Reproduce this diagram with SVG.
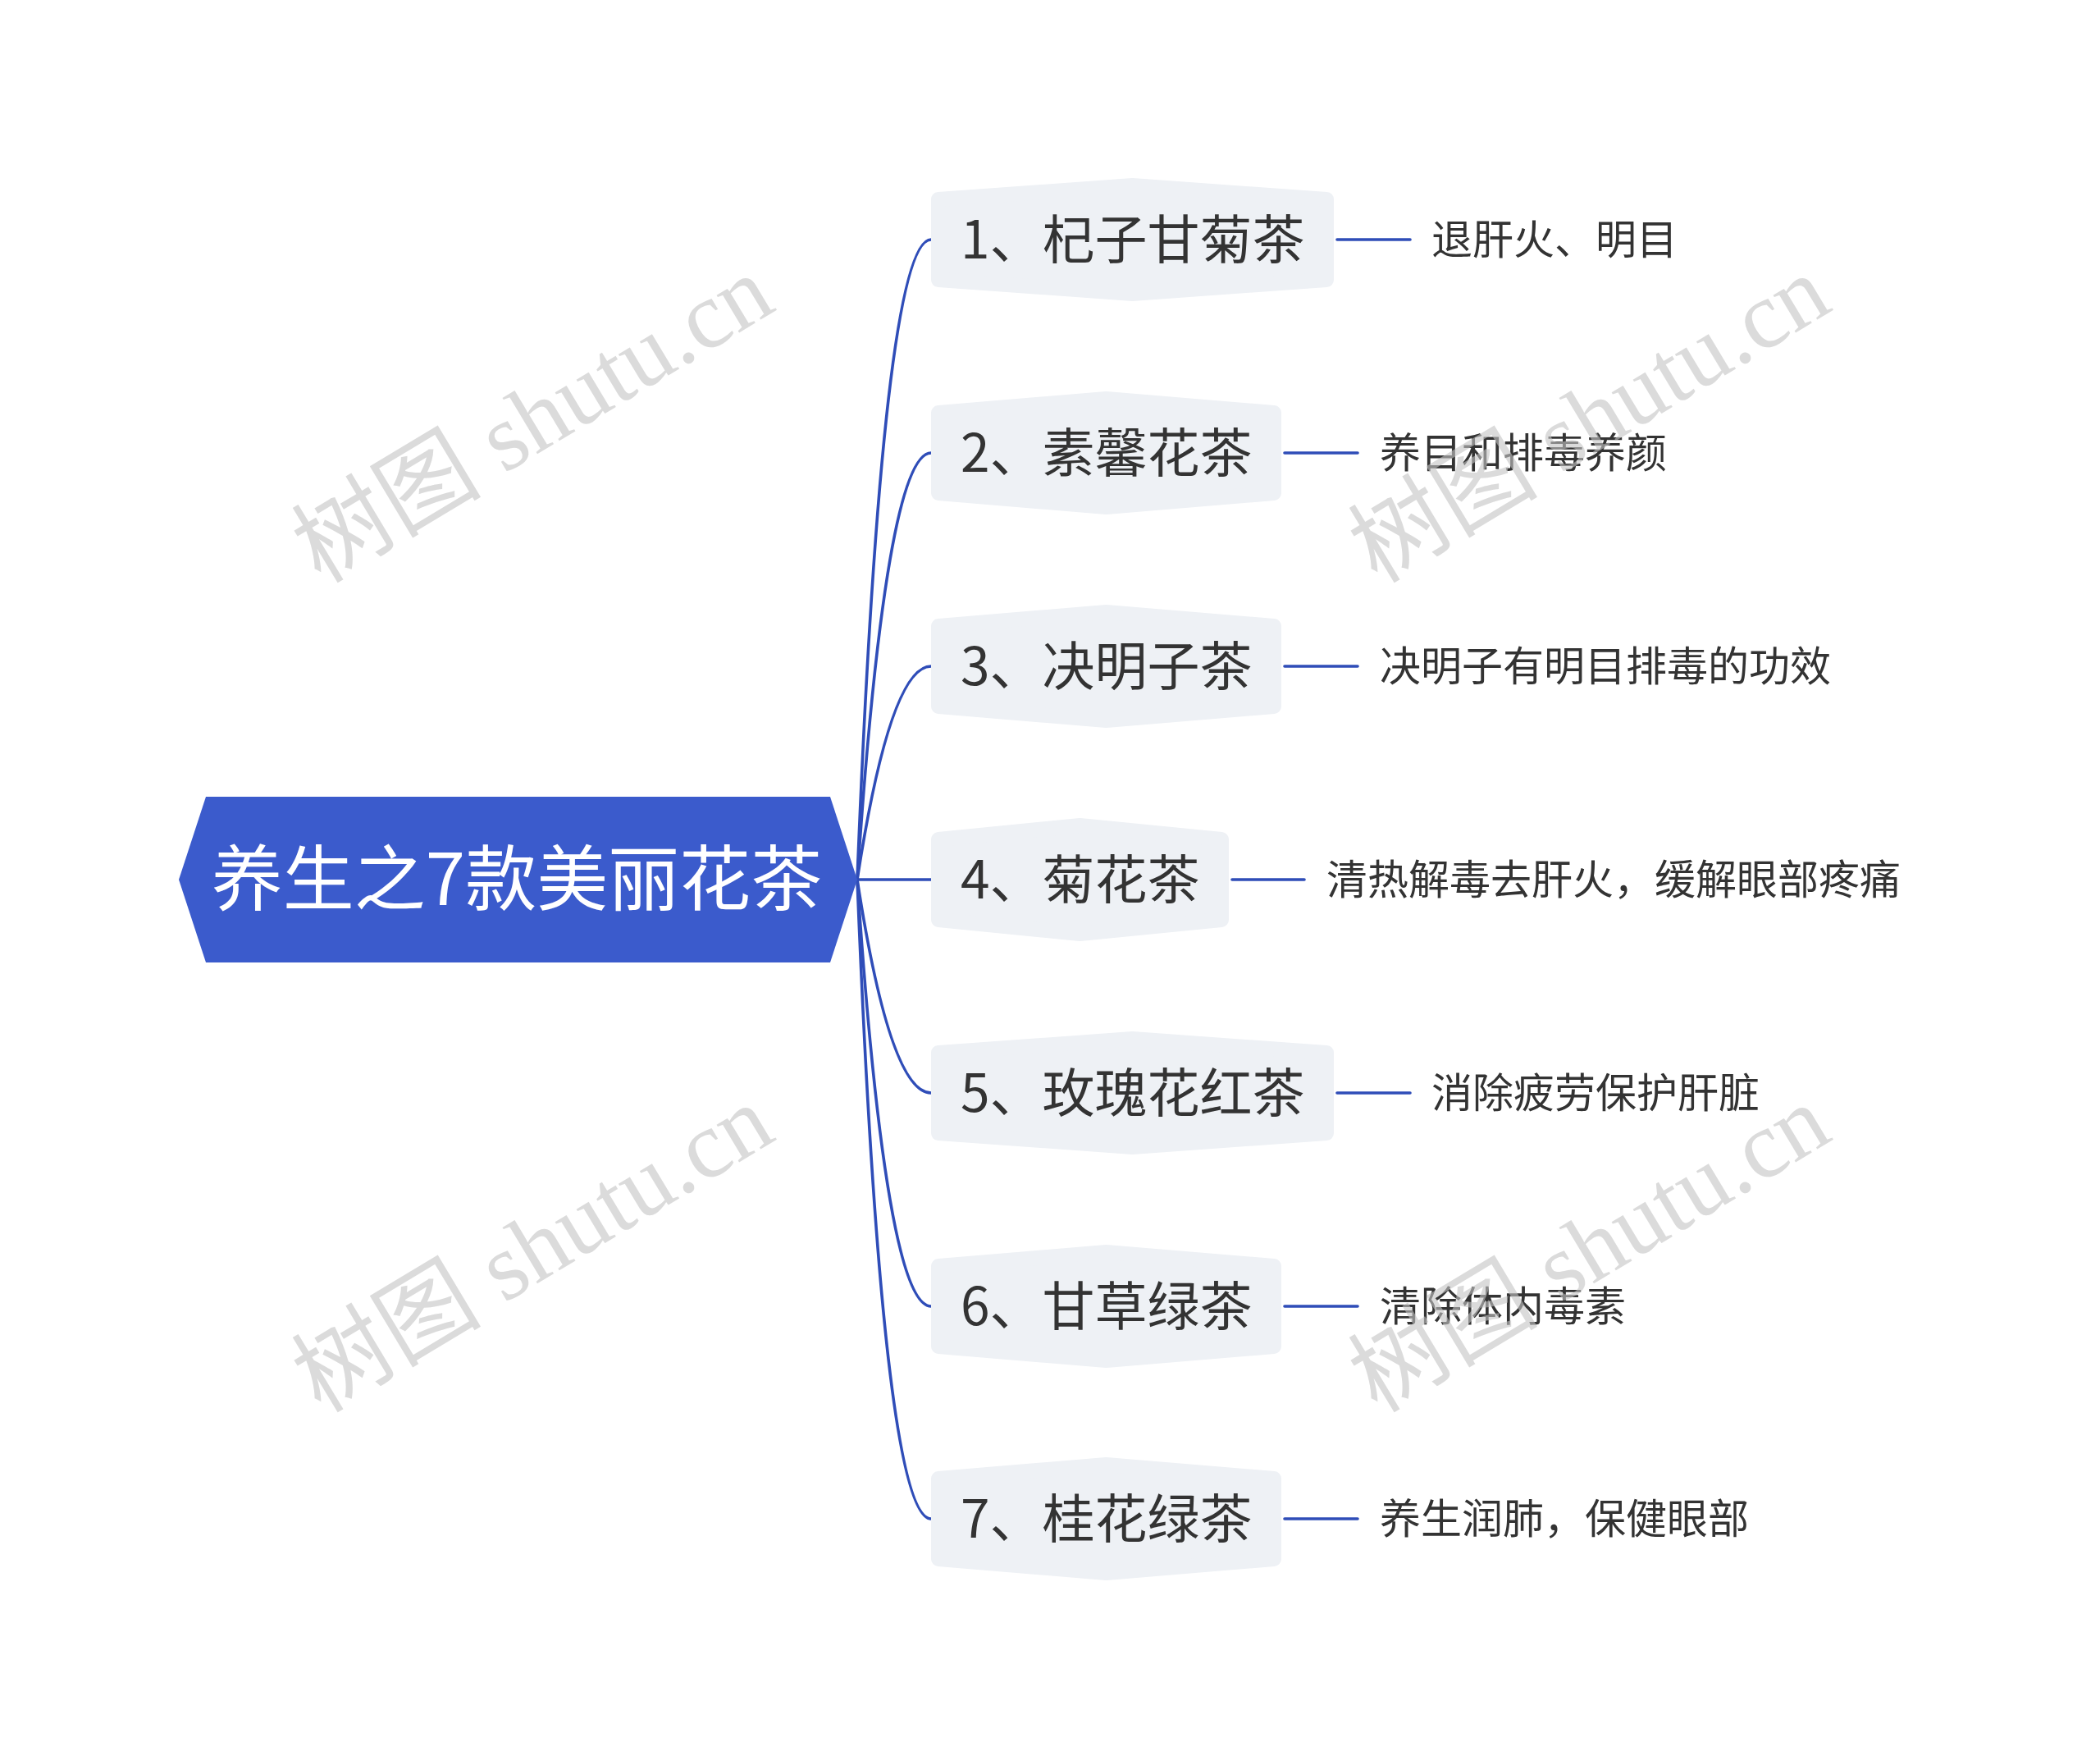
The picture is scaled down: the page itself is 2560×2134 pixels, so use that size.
<svg xmlns="http://www.w3.org/2000/svg" width="2560" height="2134" viewBox="0 0 2560 2134">
<style>
.conn{fill:none;stroke:#2f4db8;stroke-width:3.6;stroke-linecap:round}
.node{fill:#eef1f5;stroke:#eef1f5;stroke-width:18;stroke-linejoin:round}
.ntext{font-family:"Noto Sans CJK SC","Noto Sans",sans-serif;font-size:64px;fill:#333333}
.ltext{font-family:"Noto Sans CJK SC","Noto Sans",sans-serif;font-size:50px;fill:#333333}
.wm{font-family:"Liberation Serif","Noto Sans CJK SC",serif;font-size:116px;fill:#c4c4c4;opacity:0.6}
</style>
<rect width="2560" height="2134" fill="#ffffff"/>
<g id="connectors">
<path class="conn" d="M1045 1072 Q1076 292 1135 292"/>
<path class="conn" d="M1045 1072 Q1080 552 1135 552"/>
<path class="conn" d="M1045 1072 Q1085 812 1135 812"/>
<path class="conn" d="M1045 1072 L1135 1072"/>
<path class="conn" d="M1045 1072 Q1085 1332 1135 1332"/>
<path class="conn" d="M1045 1072 Q1080 1592 1135 1592"/>
<path class="conn" d="M1045 1072 Q1076 1851 1135 1851"/>
<path class="conn" d="M1630 292 L1719 292"/>
<path class="conn" d="M1566 552 L1655 552"/>
<path class="conn" d="M1566 812 L1655 812"/>
<path class="conn" d="M1502 1072 L1590 1072"/>
<path class="conn" d="M1630 1332 L1719 1332"/>
<path class="conn" d="M1566 1592 L1655 1592"/>
<path class="conn" d="M1566 1851 L1655 1851"/>
</g>
<g id="root">
<polygon points="218,1072 251,971 1012,971 1045,1072 1012,1173 251,1173" fill="#3b5bcc"/>
<text x="630" y="1103" text-anchor="middle" font-family="Noto Sans CJK SC,Noto Sans,sans-serif" font-size="87" fill="#ffffff">养生之7款美丽花茶</text>
</g>
<g id="n1">
<polygon class="node" points="1144,243 1380.5,226 1617,243 1617,341 1380.5,358 1144,341"/>
<text class="ntext" x="1171" y="315">1、杞子甘菊茶</text>
</g>
<g id="l1"><text class="ltext" x="1745" y="310">退肝火、明目</text></g>
<g id="n2">
<polygon class="node" points="1144,503 1348.5,486 1553,503 1553,601 1348.5,618 1144,601"/>
<text class="ntext" x="1171" y="575">2、素馨花茶</text>
</g>
<g id="l2"><text class="ltext" x="1682" y="570">养目和排毒养颜</text></g>
<g id="n3">
<polygon class="node" points="1144,763 1348.5,746 1553,763 1553,861 1348.5,878 1144,861"/>
<text class="ntext" x="1171" y="835">3、决明子茶</text>
</g>
<g id="l3"><text class="ltext" x="1682" y="830">决明子有明目排毒的功效</text></g>
<g id="n4">
<polygon class="node" points="1144,1023 1316.5,1006 1489,1023 1489,1121 1316.5,1138 1144,1121"/>
<text class="ntext" x="1171" y="1095">4、菊花茶</text>
</g>
<g id="l4"><text class="ltext" x="1617" y="1090">清热解毒去肝火，缓解眼部疼痛</text></g>
<g id="n5">
<polygon class="node" points="1144,1283 1380.5,1266 1617,1283 1617,1381 1380.5,1398 1144,1381"/>
<text class="ntext" x="1171" y="1355">5、玫瑰花红茶</text>
</g>
<g id="l5"><text class="ltext" x="1745" y="1350">消除疲劳保护肝脏</text></g>
<g id="n6">
<polygon class="node" points="1144,1543 1348.5,1526 1553,1543 1553,1641 1348.5,1658 1144,1641"/>
<text class="ntext" x="1171" y="1615">6、甘草绿茶</text>
</g>
<g id="l6"><text class="ltext" x="1682" y="1610">清除体内毒素</text></g>
<g id="n7">
<polygon class="node" points="1144,1802 1348.5,1785 1553,1802 1553,1900 1348.5,1917 1144,1900"/>
<text class="ntext" x="1171" y="1874">7、桂花绿茶</text>
</g>
<g id="l7"><text class="ltext" x="1682" y="1869">养生润肺，保健眼部</text></g>
<g id="watermarks">
<text class="wm" text-anchor="middle" transform="translate(650,512) rotate(-31)" y="38">树图 shutu.cn</text>
<text class="wm" text-anchor="middle" transform="translate(1938,512) rotate(-31)" y="38">树图 shutu.cn</text>
<text class="wm" text-anchor="middle" transform="translate(650,1523) rotate(-31)" y="38">树图 shutu.cn</text>
<text class="wm" text-anchor="middle" transform="translate(1938,1523) rotate(-31)" y="38">树图 shutu.cn</text>
</g>
</svg>
